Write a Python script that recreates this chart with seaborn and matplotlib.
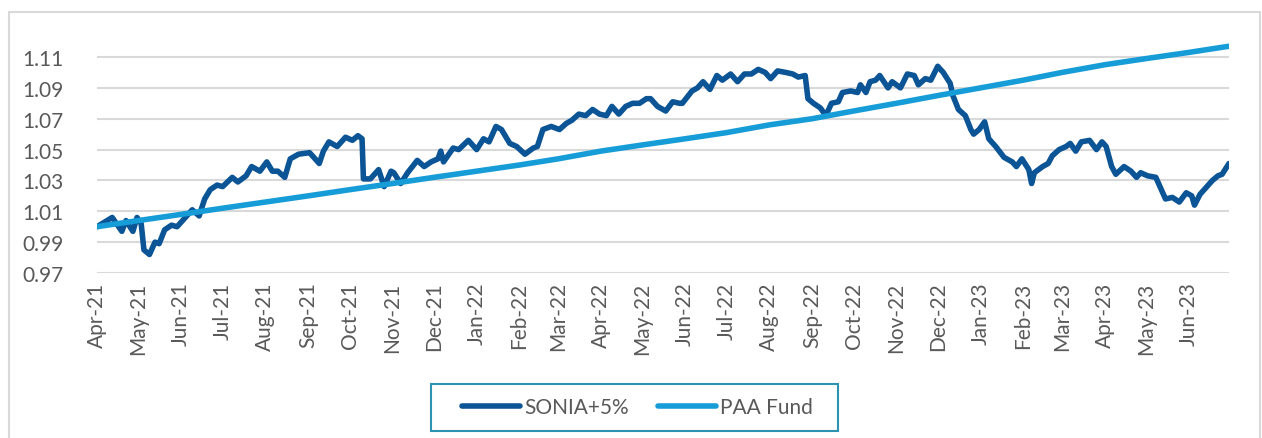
import pandas as pd
import numpy as np
import matplotlib
matplotlib.use("Agg")
import matplotlib.pyplot as plt
import matplotlib.dates as mdates
from matplotlib.patches import Rectangle
import seaborn as sns

# ============================================
# Data
# ============================================

# Dark line (legend: SONIA+5%)
SONIA_DATES = [
    "2021-04-01", "2021-04-12", "2021-04-19", "2021-04-22", "2021-04-27", "2021-04-30",
    "2021-05-03", "2021-05-05", "2021-05-09", "2021-05-13", "2021-05-16", "2021-05-20",
    "2021-05-25", "2021-05-29", "2021-06-04", "2021-06-09", "2021-06-14", "2021-06-18",
    "2021-06-22", "2021-06-27", "2021-07-01", "2021-07-08", "2021-07-12", "2021-07-18",
    "2021-07-22", "2021-07-28", "2021-08-02", "2021-08-06", "2021-08-10", "2021-08-15",
    "2021-08-19", "2021-08-25", "2021-09-02", "2021-09-05", "2021-09-09", "2021-09-12",
    "2021-09-16", "2021-09-22", "2021-09-28", "2021-10-03", "2021-10-07", "2021-10-10",
    "2021-10-11", "2021-10-16", "2021-10-22", "2021-10-26", "2021-10-31", "2021-11-02",
    "2021-11-07", "2021-11-12", "2021-11-19", "2021-11-24", "2021-11-29", "2021-12-04",
    "2021-12-06", "2021-12-08", "2021-12-15", "2021-12-19", "2021-12-26", "2022-01-01",
    "2022-01-06", "2022-01-10", "2022-01-15", "2022-01-19", "2022-01-25", "2022-01-30",
    "2022-02-05", "2022-02-11", "2022-02-14", "2022-02-18", "2022-02-24", "2022-03-02",
    "2022-03-07", "2022-03-11", "2022-03-16", "2022-03-21", "2022-03-26", "2022-03-31",
    "2022-04-05", "2022-04-09", "2022-04-14", "2022-04-19", "2022-04-24", "2022-04-29",
    "2022-05-04", "2022-05-07", "2022-05-12", "2022-05-18", "2022-05-23", "2022-05-28",
    "2022-05-30", "2022-06-06", "2022-06-10", "2022-06-14", "2022-06-19", "2022-06-24",
    "2022-06-28", "2022-07-04", "2022-07-09", "2022-07-14", "2022-07-19", "2022-07-24",
    "2022-07-29", "2022-08-02", "2022-08-07", "2022-08-13", "2022-08-18", "2022-08-22",
    "2022-08-27", "2022-08-29", "2022-09-02", "2022-09-07", "2022-09-11", "2022-09-15",
    "2022-09-20", "2022-09-23", "2022-09-29", "2022-10-04", "2022-10-06", "2022-10-10",
    "2022-10-13", "2022-10-17", "2022-10-20", "2022-10-26", "2022-10-29", "2022-11-04",
    "2022-11-09", "2022-11-14", "2022-11-17", "2022-11-22", "2022-11-26", "2022-12-01",
    "2022-12-05", "2022-12-10", "2022-12-12", "2022-12-16", "2022-12-21", "2022-12-25",
    "2022-12-27", "2022-12-31", "2023-01-04", "2023-01-07", "2023-01-12", "2023-01-18",
    "2023-01-24", "2023-01-27", "2023-01-31", "2023-02-05", "2023-02-07", "2023-02-09",
    "2023-02-15", "2023-02-19", "2023-02-22", "2023-02-27", "2023-03-04", "2023-03-07",
    "2023-03-11", "2023-03-15", "2023-03-21", "2023-03-26", "2023-03-30", "2023-04-02",
    "2023-04-06", "2023-04-09", "2023-04-15", "2023-04-20", "2023-04-24", "2023-04-27",
    "2023-05-02", "2023-05-08", "2023-05-12", "2023-05-15", "2023-05-20", "2023-05-25",
    "2023-05-30", "2023-06-03", "2023-06-05", "2023-06-09", "2023-06-14", "2023-06-18",
    "2023-06-22", "2023-06-25", "2023-06-30",
]
SONIA_VALUES = [
    1.000, 1.006, 0.997, 1.004, 0.997, 1.006,
    1.002, 0.985, 0.982, 0.990, 0.989, 0.998,
    1.001, 1.000, 1.006, 1.011, 1.007, 1.018,
    1.024, 1.027, 1.026, 1.032, 1.029, 1.033,
    1.039, 1.036, 1.042, 1.036, 1.036, 1.032,
    1.044, 1.047, 1.048, 1.045, 1.041, 1.049,
    1.055, 1.052, 1.058, 1.056, 1.059, 1.057,
    1.031, 1.031, 1.037, 1.026, 1.036, 1.035,
    1.028, 1.035, 1.043, 1.039, 1.042, 1.044,
    1.049, 1.042, 1.051, 1.050, 1.056, 1.050,
    1.057, 1.055, 1.065, 1.063, 1.054, 1.052,
    1.047, 1.051, 1.052, 1.063, 1.065, 1.063,
    1.067, 1.069, 1.073, 1.072, 1.076, 1.073,
    1.072, 1.078, 1.073, 1.078, 1.080, 1.080,
    1.083, 1.083, 1.078, 1.075, 1.081, 1.080,
    1.080, 1.088, 1.090, 1.094, 1.089, 1.098,
    1.095, 1.099, 1.094, 1.099, 1.099, 1.102,
    1.100, 1.096, 1.101, 1.100, 1.099, 1.097,
    1.098, 1.083, 1.080, 1.077, 1.072, 1.080,
    1.081, 1.087, 1.088, 1.087, 1.092, 1.087,
    1.094, 1.095, 1.098, 1.090, 1.094, 1.090,
    1.099, 1.098, 1.092, 1.096, 1.095, 1.104,
    1.100, 1.093, 1.085, 1.076, 1.072, 1.063,
    1.060, 1.063, 1.068, 1.057, 1.052, 1.045,
    1.042, 1.039, 1.044, 1.037, 1.028, 1.035,
    1.039, 1.041, 1.046, 1.050, 1.052, 1.054,
    1.049, 1.055, 1.056, 1.050, 1.055, 1.052,
    1.039, 1.034, 1.039, 1.036, 1.032, 1.035,
    1.033, 1.032, 1.024, 1.018, 1.019, 1.016,
    1.022, 1.020, 1.014, 1.021, 1.026, 1.030,
    1.033, 1.034, 1.041,
]

# Light line (legend: PAA Fund), month starts plus the last day
PAA_DATES = [
    "2021-04-01", "2021-05-01", "2021-06-01", "2021-07-01", "2021-08-01", "2021-09-01",
    "2021-10-01", "2021-11-01", "2021-12-01", "2022-01-01", "2022-02-01", "2022-03-01",
    "2022-04-01", "2022-05-01", "2022-06-01", "2022-07-01", "2022-08-01", "2022-09-01",
    "2022-10-01", "2022-11-01", "2022-12-01", "2023-01-01", "2023-02-01", "2023-03-01",
    "2023-04-01", "2023-05-01", "2023-06-01", "2023-06-30",
]
PAA_VALUES = [
    1.000, 1.004, 1.008, 1.012, 1.016, 1.020,
    1.024, 1.028, 1.032, 1.036, 1.040, 1.044,
    1.049, 1.053, 1.057, 1.061, 1.066, 1.070,
    1.075, 1.080, 1.085, 1.090, 1.095, 1.100,
    1.105, 1.109, 1.113, 1.117,
]

Y_TICKS = [0.97, 0.99, 1.01, 1.03, 1.05, 1.07, 1.09, 1.11]

DARK_BLUE = "#0B5495"
LIGHT_BLUE = "#169DD8"
TEXT_GREY = "#595959"
GRID_GREY = "#D9D9D9"

W, H = 1262, 439

# ============================================
# Plot
# ============================================

sns.set_style("white")
plt.rcParams["font.family"] = ["Lato", "DejaVu Sans"]

df = pd.concat([
    pd.DataFrame({"date": pd.to_datetime(SONIA_DATES), "value": SONIA_VALUES, "series": "SONIA+5%"}),
    pd.DataFrame({"date": pd.to_datetime(PAA_DATES), "value": PAA_VALUES, "series": "PAA Fund"}),
], ignore_index=True)

fig = plt.figure(figsize=(W / 100, H / 100), dpi=100)
ax = fig.add_axes([97 / W, 1 - 274 / H, (1229 - 97) / W, (274 - 42.6) / H])

# outer chart frame
fig.patches.append(Rectangle((9 / W, -0.05), (1260 - 9) / W, 1 - 13 / H + 0.05,
                             transform=fig.transFigure, fill=False,
                             edgecolor=GRID_GREY, linewidth=1.5, zorder=0))
# legend box
fig.patches.append(Rectangle((431 / W, 1 - 432 / H), (838 - 431) / W, (432 - 385) / H,
                             transform=fig.transFigure, fill=False,
                             edgecolor="#2E93B0", linewidth=1.5, zorder=0))

sns.lineplot(data=df, x="date", y="value", hue="series",
             palette={"SONIA+5%": DARK_BLUE, "PAA Fund": LIGHT_BLUE},
             hue_order=["SONIA+5%", "PAA Fund"],
             linewidth=4, ax=ax, legend=True)

ax.set_xlim(pd.Timestamp("2021-04-01"), pd.Timestamp("2023-06-30"))
ax.set_ylim(0.97, 1.12)
ax.set_yticks(Y_TICKS)
ax.yaxis.set_major_formatter(matplotlib.ticker.FormatStrFormatter("%.2f"))
ax.xaxis.set_major_locator(mdates.MonthLocator())
ax.xaxis.set_major_formatter(mdates.DateFormatter("%b-%y"))
plt.setp(ax.get_xticklabels(), rotation=90)

ax.grid(axis="y", color=GRID_GREY, linewidth=1.5)
ax.set_axisbelow(True)
for s in ax.spines.values():
    s.set_visible(False)
ax.tick_params(axis="both", length=0, labelsize=15, colors=TEXT_GREY)
ax.tick_params(axis="y", pad=24)
ax.tick_params(axis="x", pad=6)
ax.set_xlabel("")
ax.set_ylabel("")

handles, labels = ax.get_legend_handles_labels()
ax.legend_.remove()
leg = fig.legend(handles, labels, loc="center", bbox_to_anchor=(637.5 / W, 1 - 408.5 / H),
                 ncol=2, frameon=False, fontsize=15,
                 handlelength=2.8, handletextpad=0.2, columnspacing=1.4,
                 labelcolor=TEXT_GREY)
for line in leg.get_lines():
    line.set_linewidth(4)

fig.savefig("out.png", dpi=100)
